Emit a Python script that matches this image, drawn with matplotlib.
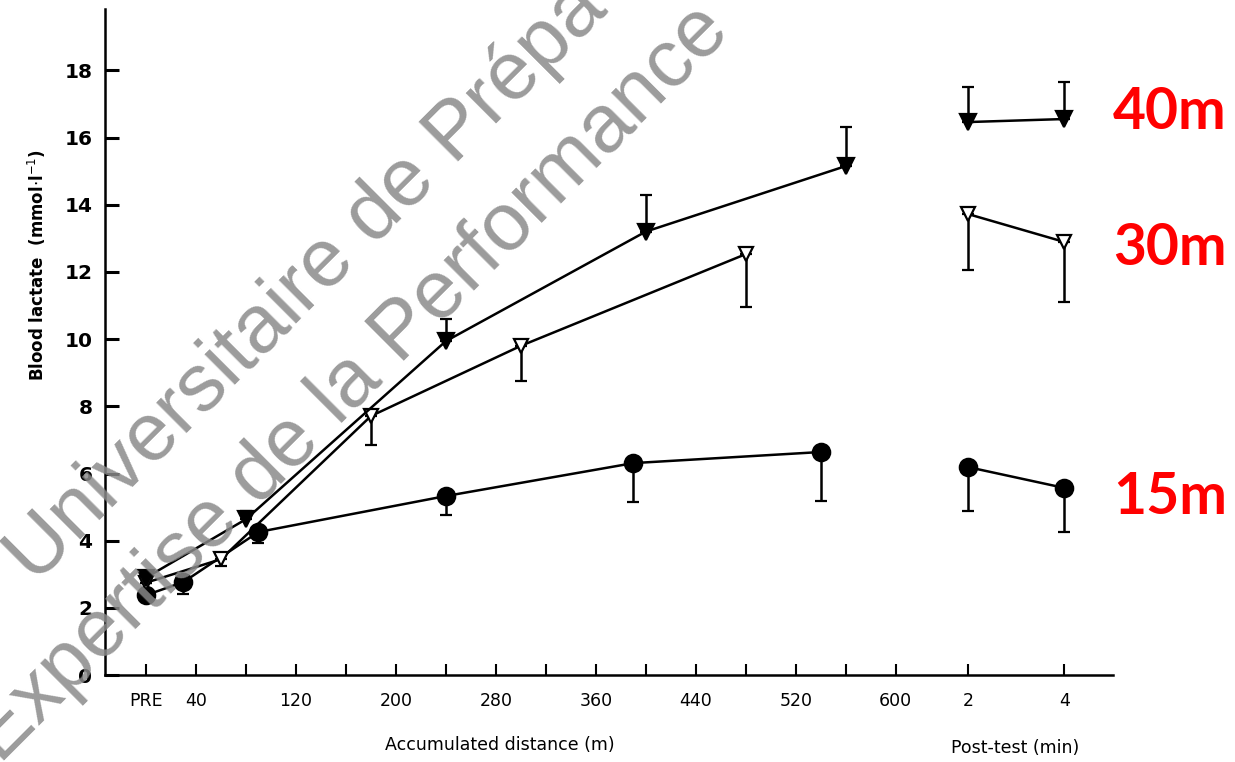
import numpy as np
import matplotlib.pyplot as plt

# ---- data ----
# accumulated distance (m) for each sprint protocol, PRE = 0
dist_15 = [0, 30, 90, 240, 390, 540]
lact_15 = [2.38, 2.77, 4.26, 5.33, 6.31, 6.64]
sd_15 = [0.0, 0.36, 0.33, 0.57, 1.16, 1.46]          # drawn downward

dist_30 = [0, 60, 180, 300, 480]
lact_30 = [2.75, 3.45, 7.71, 9.80, 12.53]
sd_30 = [0.0, 0.20, 0.86, 1.05, 1.58]               # drawn downward

dist_40 = [0, 80, 240, 400, 560]
lact_40 = [2.90, 4.64, 9.94, 13.20, 15.15]
sd_40 = [0.0, 0.25, 0.66, 1.10, 1.15]               # drawn upward

# post-test (min)
post_min = [2, 4]
post_15 = [6.19, 5.57]
post_sd_15 = [1.31, 1.31]
post_30 = [13.72, 12.89]
post_sd_30 = [1.67, 1.79]
post_40 = [16.46, 16.55]
post_sd_40 = [1.04, 1.10]

dist_ticks = list(range(0, 601, 40))
dist_labels = ["PRE", "40", "120", "200", "280", "360", "440", "520", "600"]
dist_label_pos = [0, 40, 120, 200, 280, 360, 440, 520, 600]
# where the post-test minutes sit on the distance axis
post_pos = [658, 735]

fig = plt.figure(figsize=(12.35, 7.62), dpi=100)
ax = fig.add_axes([0.085, 0.114, 0.816, 0.874])

line_kw = dict(color="black", lw=1.8, ecolor="black", elinewidth=1.8,
               capsize=4.5, capthick=2.2, zorder=3)


def series(x, y, sd, up, marker, ms, mfc):
    z = np.zeros(len(sd))
    yerr = [z, sd] if up else [sd, z]
    ax.errorbar(x, y, yerr=yerr, marker=marker, ms=ms, mfc=mfc,
                mec="black", mew=1.6, **line_kw)


series(dist_15, lact_15, sd_15, False, "o", 12.5, "black")
series(post_pos, post_15, post_sd_15, False, "o", 12.5, "black")
series(dist_30, lact_30, sd_30, False, "v", 10, "white")
series(post_pos, post_30, post_sd_30, False, "v", 10, "white")
series(dist_40, lact_40, sd_40, True, "v", 12, "black")
series(post_pos, post_40, post_sd_40, True, "v", 12, "black")

ax.set_xlim(-32.8, 773.6)
ax.set_ylim(0, 19.82)

ax.spines["top"].set_visible(False)
ax.spines["right"].set_visible(False)
ax.spines["left"].set_linewidth(1.8)
ax.spines["bottom"].set_linewidth(1.8)

ax.set_xticks(dist_ticks + post_pos)
ax.set_xticklabels([dist_labels[dist_label_pos.index(t)] if t in dist_label_pos else ""
                    for t in dist_ticks] + [str(m) for m in post_min])
ax.set_yticks(range(0, 19, 2))
ax.tick_params(axis="x", direction="in", length=8, width=1.5, pad=12, labelsize=12.5)
ax.tick_params(axis="y", direction="in", length=10, width=2.2, pad=9, labelsize=14.5)
for t in ax.get_yticklabels():
    t.set_fontweight("bold")

fig.text(0.405, 0.016, "Accumulated distance (m)", fontsize=12.5, ha="center")
fig.text(0.822, 0.012, "Post-test (min)", fontsize=12.5, ha="center")
fig.text(0.030, 0.652, r"Blood lactate  (mmol$\cdot$l$^{-1}$)", fontsize=12,
         rotation=90, ha="center", va="center", fontweight="bold")

# protocol labels
for txt, yv in [("40m", 16.75), ("30m", 12.70), ("15m", 5.30)]:
    ax.text(774, yv, txt, color="#ff0000", fontsize=41, fontweight="bold",
            family="Lato", ha="left", va="center", clip_on=False)

# watermark
wm = dict(fontsize=59, color="#8a8a8a", alpha=0.85, rotation=45,
          rotation_mode="anchor", ha="left", va="baseline",
          family="Liberation Sans", zorder=10)
fig.text(35 / 1235, 1 - 585 / 762, "Universitaire de Prépa", **wm)
fig.text(0 / 1235, 1 - 765 / 762, "Expertise de la Performance", **wm)

fig.savefig("out.png", dpi=100)
